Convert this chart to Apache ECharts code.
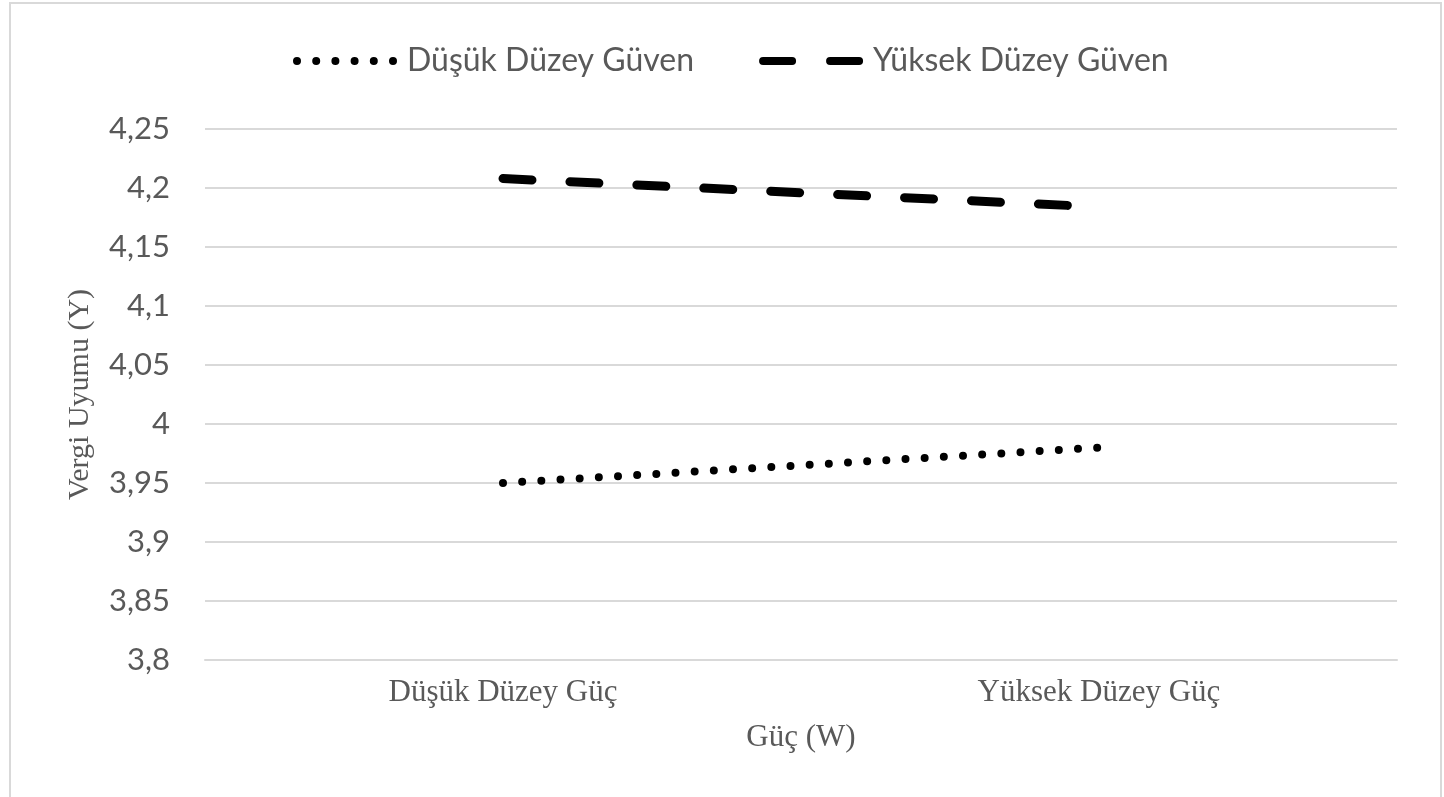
<!DOCTYPE html>
<html>
<head>
<meta charset="utf-8">
<script src="https://cdn.jsdelivr.net/npm/echarts@6/dist/echarts.min.js"></script>
<style>
  html, body { margin: 0; padding: 0; background: #ffffff; }
  #chart { width: 1444px; height: 797px; }
</style>
</head>
<body>
<div id="chart"></div>
<script>
// Power levels on the x axis
const categories = ['Düşük Düzey Güç', 'Yüksek Düzey Güç'];
// Tax compliance means for each trust level
const lowTrust = [3.95, 3.98];
const highTrust = [4.208, 4.184];
const seriesNames = ['Düşük Düzey Güven', 'Yüksek Düzey Güven'];

const textGray = '#595959';
const gridGray = '#d9d9d9';
const sansFont = 'Lato, "Noto Sans", sans-serif';
const serifFont = '"Liberation Serif", "DejaVu Serif", serif';

// Y tick labels use a decimal comma
const fmt = v => String(Math.round(v * 100) / 100).replace('.', ',');

const chart = echarts.init(document.getElementById('chart'), null, { renderer: 'canvas' });

chart.setOption({
  backgroundColor: '#ffffff',
  animation: false,
  graphic: [{
    type: 'rect',
    shape: { x: 10, y: 3, width: 1431, height: 800 },
    style: { fill: 'none', stroke: gridGray, lineWidth: 2 },
    silent: true
  }],
  legend: {
    left: 288,
    top: 40,
    itemWidth: 105,
    itemHeight: 12,
    itemGap: 65,
    icon: 'inherit',
    textStyle: { color: textGray, fontFamily: sansFont, fontSize: 32 },
    // legend keys show only the line pattern, no point marker
    itemStyle: { color: 'rgba(0,0,0,0)', borderWidth: 0 },
    lineStyle: { width: 8 },
    data: seriesNames
  },
  grid: { left: 205, right: 47, top: 129, bottom: 137 },
  xAxis: {
    type: 'category',
    data: categories,
    boundaryGap: true,
    axisLine: { show: true, lineStyle: { color: gridGray, width: 2 } },
    axisTick: { show: false },
    axisLabel: { color: textGray, fontFamily: serifFont, fontSize: 31, margin: 17 },
    name: 'Güç (W)',
    nameLocation: 'middle',
    nameGap: 62,
    nameTextStyle: { color: textGray, fontFamily: serifFont, fontSize: 31 }
  },
  yAxis: {
    type: 'value',
    min: 3.8,
    max: 4.25,
    interval: 0.05,
    axisLine: { show: false },
    axisTick: { show: false },
    axisLabel: { color: textGray, fontFamily: sansFont, fontSize: 31, margin: 35, formatter: fmt },
    splitLine: { lineStyle: { color: gridGray, width: 2 } },
    name: 'Vergi Uyumu (Y)',
    nameLocation: 'middle',
    nameGap: 110,
    nameTextStyle: { color: textGray, fontFamily: serifFont, fontSize: 30 }
  },
  series: [
    {
      name: seriesNames[0],
      type: 'line',
      data: lowTrust,
      symbol: 'none',
      lineStyle: { color: '#000000', width: 8, type: [0, 19.2], cap: 'round' },
      itemStyle: { color: '#000000' }
    },
    {
      name: seriesNames[1],
      type: 'line',
      data: highTrust,
      symbol: 'none',
      lineStyle: { color: '#000000', width: 9, type: [29, 38], cap: 'round' },
      itemStyle: { color: '#000000' }
    }
  ]
});
</script>
</body>
</html>
